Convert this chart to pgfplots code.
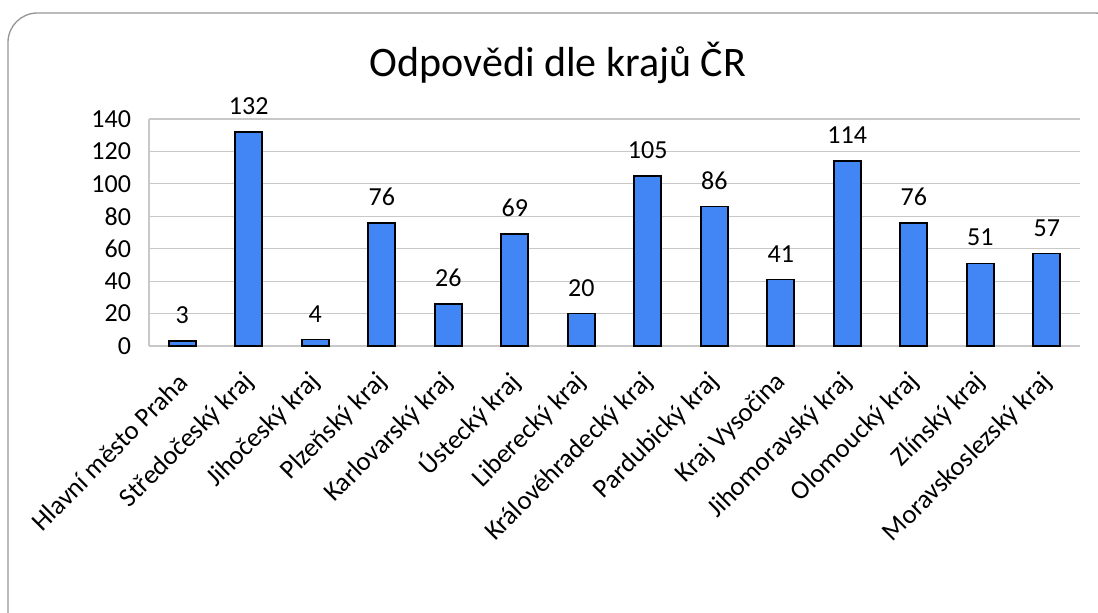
\documentclass[border=0pt]{standalone}
\usepackage{fontspec}
\setmainfont{Carlito}
\usepackage{pgfplots}
\pgfplotsset{compat=1.18}
\definecolor{barblue}{RGB}{66,133,244}
\definecolor{gridgray}{RGB}{200,200,200}
\definecolor{framegray}{RGB}{150,150,150}
\begin{document}
\begin{tikzpicture}
\useasboundingbox (0pt,0pt) rectangle (823.5pt,459.75pt);
\begin{scope}
\clip (0pt,0pt) rectangle (823.5pt,459.75pt);
\draw[framegray, line width=1pt, rounded corners=22pt] (6pt,-30pt) rectangle (843pt,450pt);
\end{scope}
\node[anchor=base, font=\fontsize{31.5}{36}\selectfont] at (418.5pt,402pt) {Odpovědi dle krajů ČR};
\begin{axis}[
  at={(111.75pt,200.25pt)}, anchor=south west,
  scale only axis,
  width=698.25pt, height=170.25pt,
  xmin=-0.5, xmax=13.5,
  ymin=0, ymax=140,
  ytick={0,20,...,140},
  xtick={0,...,13},
  xticklabels={Hlavní město Praha, Středočeský kraj, Jihočeský kraj, Plzeňský kraj, Karlovarský kraj, Ústecký kraj, Liberecký kraj, Královéhradecký kraj, Pardubický kraj, Kraj Vysočina, Jihomoravský kraj, Olomoucký kraj, Zlínský kraj, Moravskoslezský kraj},
  xticklabel style={xshift=1pt, yshift=-24pt, rotate=45, anchor=east, inner sep=0pt, font=\fontsize{20}{22}\selectfont},
  yticklabel style={font=\fontsize{19.5}{22}\selectfont, xshift=-10pt},
  /pgf/number format/assume math mode=true,
  major tick length=0pt,
  axis x line*=bottom, axis y line*=left,
  axis line style={gridgray, line width=0.9pt},
  ymajorgrids, major grid style={gridgray, line width=0.9pt},
  ybar, bar width=20.25pt,
  nodes near coords,
  nodes near coords style={anchor=base, yshift=13pt, font=\fontsize{19.5}{22}\selectfont, /pgf/number format/assume math mode=true},
  clip=false,
]
\addplot[fill=barblue, draw=black, line width=1.2pt] coordinates {
(0,3) (1,132) (2,4) (3,76) (4,26) (5,69) (6,20) (7,105) (8,86) (9,41) (10,114) (11,76) (12,51) (13,57)
};
\end{axis}
\end{tikzpicture}
\end{document}
